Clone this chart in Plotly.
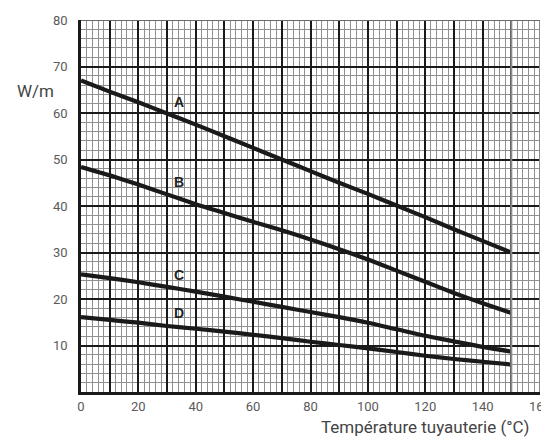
import plotly.graph_objects as go

# ---- data ----
temp_A = [0, 10, 20, 30, 40, 50, 60, 70, 80, 90, 100, 110, 120, 130, 140, 150]
wm_A = [67.0, 64.6, 62.3, 59.9, 57.5, 55.0, 52.5, 50.0, 47.5, 45.0, 42.6, 40.1, 37.6, 35.0, 32.5, 30.0]

temp_B = [0, 10, 20, 30, 40, 50, 60, 70, 80, 90, 100, 110, 120, 130, 140, 150]
wm_B = [48.4, 46.6, 44.6, 42.5, 40.4, 38.5, 36.6, 34.8, 32.8, 30.7, 28.5, 26.1, 23.7, 21.3, 19.1, 17.0]

temp_C = [0, 10, 20, 30, 40, 50, 60, 70, 80, 90, 100, 110, 120, 130, 140, 150]
wm_C = [25.3, 24.5, 23.6, 22.6, 21.6, 20.5, 19.4, 18.3, 17.2, 16.1, 14.9, 13.5, 12.1, 10.9, 9.7, 8.7]

temp_D = [0, 10, 20, 30, 40, 50, 60, 70, 80, 90, 100, 110, 120, 130, 140, 150]
wm_D = [16.1, 15.5, 14.9, 14.2, 13.6, 13.0, 12.3, 11.6, 10.8, 10.1, 9.4, 8.6, 7.8, 7.1, 6.5, 5.9]

curve_names = ["A", "B", "C", "D"]
label_x = [34, 34, 34, 34]
label_y = [62.4, 45.2, 25.2, 16.9]

x_tickvals = [0, 10, 20, 30, 40, 50, 60, 70, 80, 90, 100, 110, 120, 130, 140, 150, 160]
x_ticktext = ["0", "", "20", "", "40", "", "60", "", "80", "", "100", "", "120", "", "140", "", "160"]
y_tickvals = [10, 20, 30, 40, 50, 60, 70, 80]
y_ticktext = ["10", "20", "30", "40", "50", "60", "70", "80"]

y_title = "W/m"
x_title = "Température tuyauterie (°C)"

# ---- figure ----
fig = go.Figure()
series = [(temp_A, wm_A), (temp_B, wm_B), (temp_C, wm_C), (temp_D, wm_D)]
for name, (xs, ys) in zip(curve_names, series):
    fig.add_trace(go.Scatter(x=xs, y=ys, mode="lines", name=name,
                             line=dict(color="#1a1a1a", width=4.2, shape="spline", smoothing=0.6),
                             showlegend=False, hoverinfo="skip"))

for name, lx, ly in zip(curve_names, label_x, label_y):
    fig.add_annotation(x=lx, y=ly, text="<b>" + name + "</b>", showarrow=False,
                       font=dict(family="Liberation Sans", size=14, color="#222"),
                       xanchor="center", yanchor="middle")

tick_font = dict(family="Roboto", size=13, color="#5a5a5a")

fig.update_xaxes(range=[0, 160], tickvals=x_tickvals, ticktext=x_ticktext,
                 showgrid=True, gridcolor="#1a1a1a", gridwidth=2.2,
                 minor=dict(dtick=2, showgrid=True, gridcolor="#909090", gridwidth=1.4),
                 showline=True, linecolor="#1a1a1a", linewidth=2.5,
                 zeroline=False, ticks="outside", ticklen=1, tickcolor="rgba(0,0,0,0)",
                 tickfont=tick_font, ticklabeloverflow="allow")
fig.update_yaxes(range=[0, 80], tickvals=y_tickvals, ticktext=y_ticktext,
                 showgrid=True, gridcolor="#1a1a1a", gridwidth=2.2,
                 minor=dict(dtick=2, showgrid=True, gridcolor="#909090", gridwidth=1.4),
                 showline=True, linecolor="#1a1a1a", linewidth=2.5,
                 zeroline=False, ticks="outside", ticklen=8, tickcolor="rgba(0,0,0,0)",
                 tickfont=tick_font, ticklabeloverflow="allow")

# lighter frame/lines on the right and top
fig.add_shape(type="line", xref="x", yref="paper", x0=150, x1=150, y0=0, y1=1,
              line=dict(color="#8a8a8a", width=2), layer="above")
fig.add_shape(type="line", xref="x", yref="paper", x0=160, x1=160, y0=0, y1=1,
              line=dict(color="#8a8a8a", width=2), layer="above")
fig.add_shape(type="line", xref="paper", yref="y", x0=0, x1=1, y0=80, y1=80,
              line=dict(color="#6a6a6a", width=2), layer="above")

fig.add_annotation(x=-0.054, y=0.809, xref="paper", yref="paper", text=y_title,
                   showarrow=False, xanchor="right", yanchor="middle",
                   font=dict(family="Roboto", size=17, color="#444"))
fig.add_annotation(x=0.98, y=-0.095, xref="paper", yref="paper", text=x_title,
                   showarrow=False, xanchor="right", yanchor="middle",
                   font=dict(family="Roboto", size=17, color="#444"))

fig.update_layout(width=549, height=443,
                  margin=dict(l=73, r=17, t=5, b=59),
                  paper_bgcolor="white", plot_bgcolor="white")

fig.write_html("out.html")
